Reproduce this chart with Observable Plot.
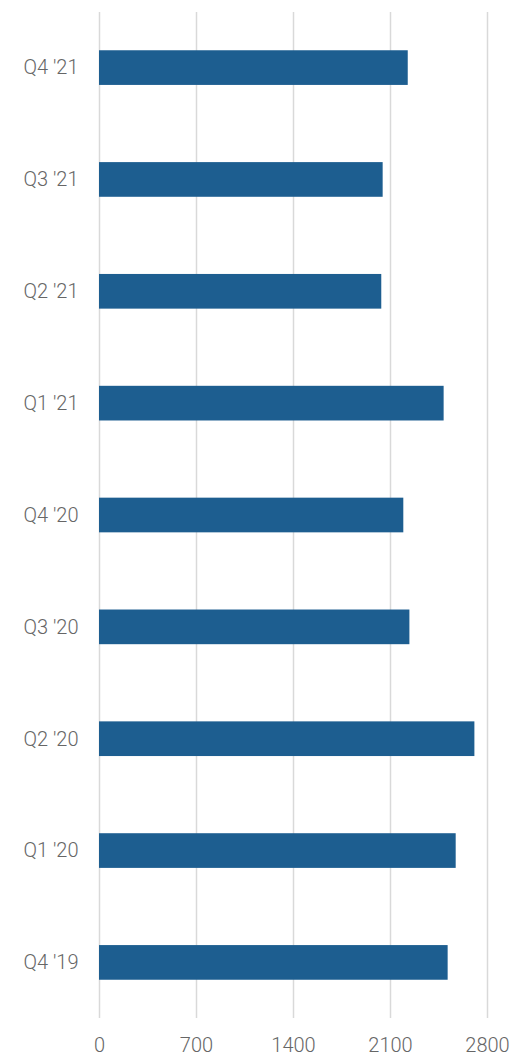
<!DOCTYPE html>
<html>
<head>
<meta charset="utf-8">
<script src="https://cdn.jsdelivr.net/npm/d3@7"></script>
<script src="https://cdn.jsdelivr.net/npm/@observablehq/plot@0.6"></script>
<style>
  html, body { margin: 0; padding: 0; background: #fff; }
  #chart svg { display: block; font-family: Roboto, sans-serif; font-weight: 300; }
</style>
</head>
<body>
<div id="chart"></div>
<script>
const quarters = ["Q4 '21", "Q3 '21", "Q2 '21", "Q1 '21", "Q4 '20", "Q3 '20", "Q2 '20", "Q1 '20", "Q4 '19"];
const values = [2228, 2047, 2037, 2487, 2196, 2240, 2709, 2574, 2516];
const xTicks = [0, 700, 1400, 2100, 2800];

const data = quarters.map((q, i) => ({quarter: q, value: values[i]}));

const chart = Plot.plot({
  width: 511,
  height: 1056,
  marginLeft: 99,
  marginRight: 24,
  marginTop: 12,
  marginBottom: 38,
  style: {fontFamily: "Roboto, sans-serif", fontSize: "20px", fontWeight: 300, color: "#666", background: "#fff"},
  x: {domain: [0, 2800], ticks: xTicks, label: null},
  y: {domain: quarters, paddingInner: 0.69, paddingOuter: 0.342, round: false, label: null},
  marks: [
    Plot.gridX(xTicks, {stroke: "#d9d9d9", strokeOpacity: 1, strokeWidth: 1.5}),
    Plot.barX(data, {x: "value", y: "quarter", fill: "#1d5e90"}),
    Plot.axisX({ticks: xTicks, tickFormat: d3.format("d"), tickSize: 0, tickPadding: 19, label: null, fill: "#666", fontSize: 20}),
    Plot.axisY({tickSize: 0, tickPadding: 21, label: null, fill: "#666", fontSize: 20})
  ]
});
document.getElementById("chart").appendChild(chart);
</script>
</body>
</html>
